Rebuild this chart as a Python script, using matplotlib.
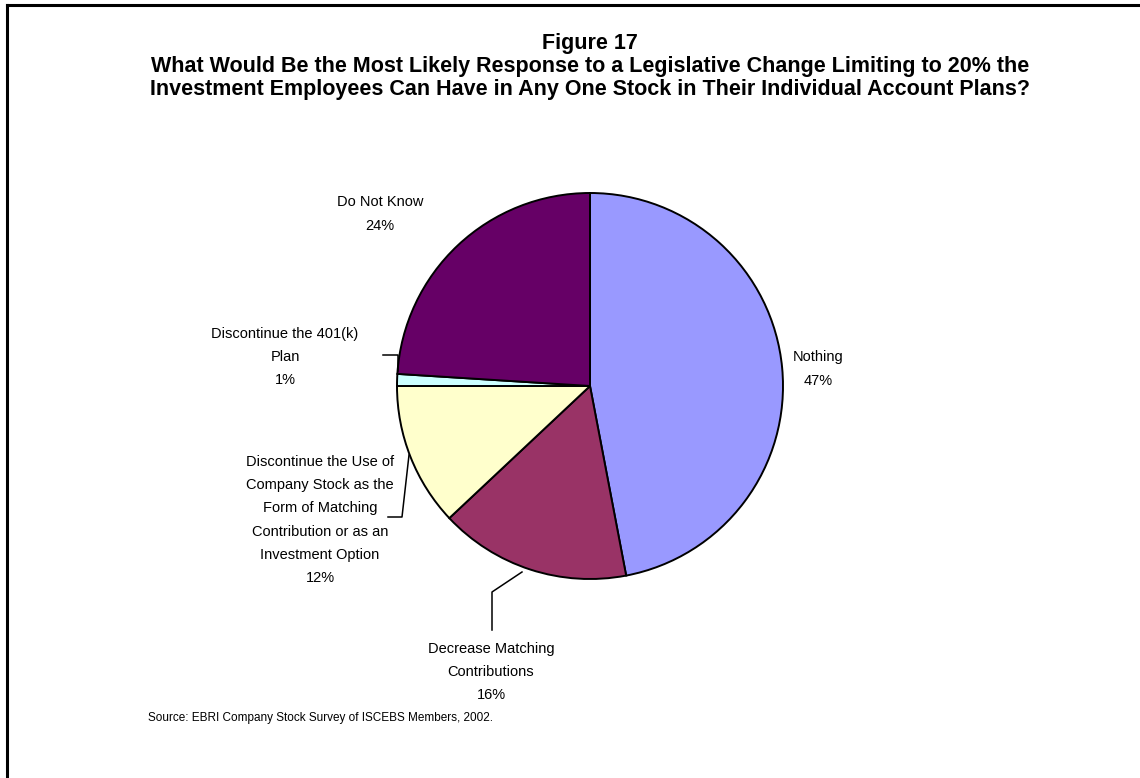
import matplotlib
matplotlib.use("Agg")
import matplotlib.pyplot as plt
from matplotlib.lines import Line2D

# Survey responses, clockwise from 12 o'clock
categories = [
    "Nothing",
    "Decrease Matching\nContributions",
    "Discontinue the Use of\nCompany Stock as the\nForm of Matching\nContribution or as an\nInvestment Option",
    "Discontinue the 401(k)\nPlan",
    "Do Not Know",
]
shares = [47, 16, 12, 1, 24]
colors = ["#9999FF", "#993366", "#FFFFCC", "#CCFFFF", "#660066"]

title_lines = [
    "Figure 17",
    "What Would Be the Most Likely Response to a Legislative Change Limiting to 20% the",
    "Investment Employees Can Have in Any One Stock in Their Individual Account Plans?",
]
source_note = "Source: EBRI Company Stock Survey of ISCEBS Members, 2002."

plt.rcParams["font.family"] = ["Liberation Sans", "DejaVu Sans"]

W, H = 1140, 778
fig = plt.figure(figsize=(W / 100, H / 100), dpi=100)
ax = fig.add_axes([0, 0, 1, 1])

# y axis runs downward, so counterclock=True draws clockwise on screen
ax.pie(shares, colors=colors, startangle=-90, counterclock=True,
       center=(590, 386), radius=193,
       wedgeprops=dict(edgecolor="black", linewidth=1.4), frame=True)
ax.set_xlim(0, W)
ax.set_ylim(H, 0)
ax.set_aspect("equal")
ax.axis("off")

# frame of the chart area (top and left edges)
fig.add_artist(Line2D([7 / W, 1], [1 - 5 / H, 1 - 5 / H], color="black", lw=2.2))
fig.add_artist(Line2D([7 / W, 7 / W], [1 - 5 / H, 0], color="black", lw=2.2))

# title
for txt, y in zip(title_lines, [43, 66, 89]):
    ax.text(590, y, txt, ha="center", va="center", fontsize=15.5,
            fontweight="bold")

# slice labels
label_pos = [(818, 369), (491, 672), (320, 520), (285, 357), (380, 214)]
for name, v, (x, y) in zip(categories, shares, label_pos):
    ax.text(x, y, f"{name}\n{v}%", ha="center", va="center", fontsize=10.5,
            linespacing=1.85)

# leader lines
lk = dict(color="black", lw=1.1)
ax.plot([383, 398, 398], [355, 355, 371], **lk)
ax.plot([388, 402, 409], [517, 517, 455], **lk)
ax.plot([492, 492, 522], [630, 592, 572], **lk)

ax.text(148, 718, source_note, ha="left", va="center", fontsize=8.5)

fig.savefig("out.png", dpi=100)
